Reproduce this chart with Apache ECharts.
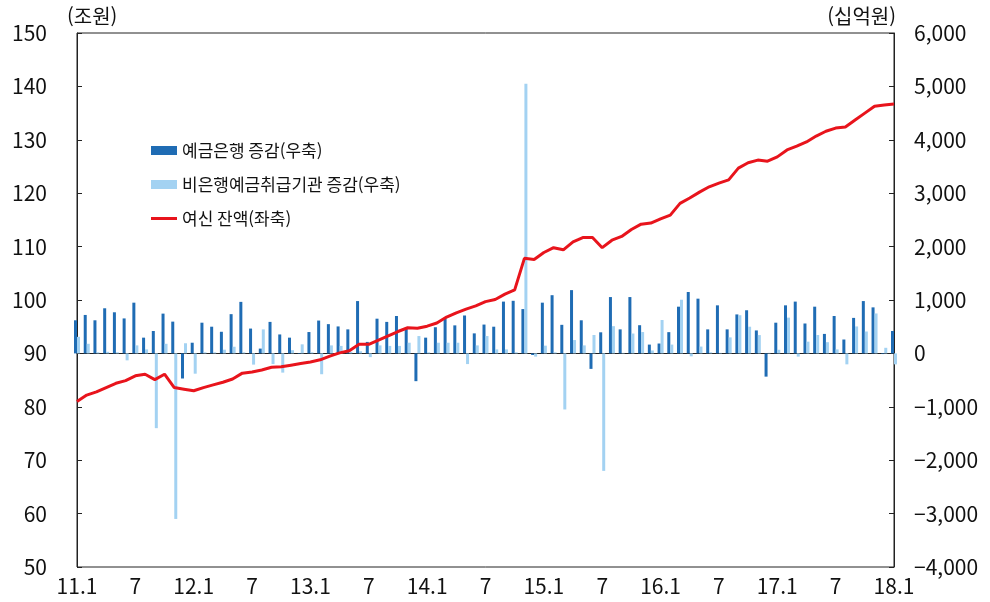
<!DOCTYPE html>
<html lang="ko">

<head>
    <meta charset="UTF-8">
    <title>여신 잔액 및 증감</title>
    <style>
        * {
            margin: 0;
            padding: 0;
        }

        #chart {
            width: 990px;
            height: 602px;
            background: #fff;
        }
    </style>
</head>

<body>
    <div id="chart"></div>
    <script src="https://cdn.jsdelivr.net/npm/echarts@6.0.0/dist/echarts.min.js"></script>
    <script type="text/javascript">
        // 월별 카테고리 (11.1 ~ 18.1)
        var months = [];
        for (var y = 11; y <= 18; y++) {
            for (var m = 1; m <= 12; m++) {
                if (y == 18 && m > 1) break;
                months.push(y + '.' + m);
            }
        }

        // 예금은행 증감(우축, 십억원)
        var bankChange = [
            620, 720, 620, 845, 770, 655, 950, 295, 420, 745, 595, -470,
            200, 575, 500, 405, 735, 965, 465, 90, 590, 355, 295, -10,
            400, 615, 548, 505, 450, 980, 215, 650, 590, 700, 480, -520,
            295, 490, 660, 525, 710, 375, 540, 500, 970, 985, 830, -30,
            950, 1090, 535, 1185, 620, -290, 395, 1055, 450, 1055, 528, 165,
            185, 398, 875, 1150, 1025, 450, 900, 450, 730, 808, 430, -435,
            575, 900, 970, 560, 875, 365, 700, 260, 665, 980, 862, -12,
            420
        ];

        // 비은행예금취급기관 증감(우축, 십억원)
        var nonBankChange = [
            310, 180, 20, 30, 20, -130, 150, 75, -1400, 180, -3100, 190,
            -380, 20, 20, 70, 125, 20, -210, 450, -200, -360, 60, 170,
            20, -390, 150, 140, 30, 40, -70, 150, 140, 140, 200, 325,
            20, 200, 200, 200, -200, 150, 325, 75, 75, 20, 5050, -60,
            145, 20, -1050, 250, 150, 345, -2200, 510, 10, 372, 400, 55,
            625, 165, 1005, -55, 128, 20, 10, 300, 715, 500, 343, 10,
            68, 670, -60, 220, 345, 210, 75, -205, 505, 410, 748, 105,
            -205
        ];

        // 여신 잔액(좌축, 조원)
        var loanBalance = [
            81.0, 82.2, 82.8, 83.6, 84.4, 84.9, 85.8, 86.1, 85.1, 86.1, 83.6, 83.3,
            83.0, 83.6, 84.1, 84.6, 85.2, 86.3, 86.5, 86.9, 87.4, 87.5, 87.8, 88.1,
            88.4, 88.8, 89.5, 90.1, 90.5, 91.7, 91.7, 92.5, 93.3, 94.1, 94.8, 94.7,
            95.1, 95.7, 96.8, 97.6, 98.3, 98.9, 99.7, 100.1, 101.1, 101.9, 107.8, 107.6,
            108.9, 109.8, 109.4, 110.9, 111.7, 111.7, 109.8, 111.2, 111.9, 113.2, 114.2, 114.4,
            115.2, 115.9, 118.1, 119.1, 120.2, 121.2, 121.9, 122.5, 124.7, 125.7, 126.2, 126.0,
            126.8, 128.1, 128.8, 129.6, 130.7, 131.6, 132.2, 132.4, 133.7, 135.0, 136.3, 136.5,
            136.7
        ];

        var numFont = "'Noto Sans CJK KR', sans-serif";
        var korFont = "'Noto Sans CJK KR', sans-serif";

        var chart = echarts.init(document.getElementById('chart'));
        var option = {
            animation: false,
            backgroundColor: '#fff',
            grid: {
                left: 77,
                right: 96,
                top: 33,
                bottom: 35,
                show: true,
                borderColor: '#222',
                borderWidth: 1
            },
            legend: {
                orient: 'vertical',
                left: 146,
                top: 137,
                itemGap: 17,
                itemWidth: 26,
                itemHeight: 9,
                textStyle: { fontFamily: korFont, fontSize: 17, color: '#111' },
                data: [
                    { name: '예금은행 증감(우축)', icon: 'rect' },
                    { name: '비은행예금취급기관 증감(우축)', icon: 'rect' },
                    // 선 아이콘 (원 표시 없이)
                    { name: '여신 잔액(좌축)', icon: 'path://M0,0 L26,0 L26,3 L0,3 Z' }
                ]
            },
            xAxis: {
                type: 'category',
                boundaryGap: false,
                data: months,
                axisLine: { lineStyle: { color: '#222' } },
                axisTick: { show: false },
                axisLabel: {
                    interval: 5,
                    margin: 9,
                    color: '#111',
                    fontFamily: numFont,
                    fontSize: 21,
                    formatter: function (v) {
                        var p = v.split('.');
                        return p[1] == '1' ? v : p[1];
                    }
                },
                splitLine: { show: false }
            },
            yAxis: [
                {
                    type: 'value',
                    position: 'left',
                    min: 50,
                    max: 150,
                    interval: 10,
                    name: '(조원)',
                    nameLocation: 'end',
                    nameGap: 7,
                    nameTextStyle: {
                        fontFamily: korFont, fontSize: 20, color: '#111',
                        align: 'left', padding: [0, 0, 0, -10]
                    },
                    axisLine: { show: true, lineStyle: { color: '#222' } },
                    axisTick: { show: true, inside: true, length: 5, lineStyle: { color: '#222' } },
                    axisLabel: { margin: 30, color: '#111', fontFamily: numFont, fontSize: 21 },
                    splitLine: { show: false }
                },
                {
                    type: 'value',
                    position: 'right',
                    min: -4000,
                    max: 6000,
                    interval: 1000,
                    name: '(십억원)',
                    nameLocation: 'end',
                    nameGap: 7,
                    nameTextStyle: {
                        fontFamily: korFont, fontSize: 20, color: '#111',
                        align: 'right', padding: [0, -2, 0, 0]
                    },
                    axisLine: { show: true, lineStyle: { color: '#222' } },
                    axisTick: { show: true, inside: true, length: 5, lineStyle: { color: '#222' } },
                    axisLabel: {
                        margin: 20,
                        color: '#111',
                        fontFamily: numFont,
                        fontSize: 21,
                        formatter: function (v) {
                            var s = Math.abs(v).toLocaleString('en-US');
                            return v < 0 ? '\u2212' + s : s;
                        }
                    },
                    splitLine: { show: false }
                }
            ],
            series: [
                {
                    name: '예금은행 증감(우축)',
                    type: 'bar',
                    yAxisIndex: 1,
                    data: bankChange,
                    barWidth: 3,
                    barGap: '0%',
                    itemStyle: { color: '#1f6cb4' }
                },
                {
                    name: '비은행예금취급기관 증감(우축)',
                    type: 'bar',
                    yAxisIndex: 1,
                    data: nonBankChange,
                    barWidth: 3,
                    barGap: '0%',
                    itemStyle: { color: '#a3d2f2' }
                },
                {
                    name: '여신 잔액(좌축)',
                    type: 'line',
                    yAxisIndex: 0,
                    data: loanBalance,
                    symbol: 'none',
                    z: 5,
                    lineStyle: { color: '#e8141c', width: 3 },
                    itemStyle: { color: '#e8141c' }
                }
            ]
        };
        chart.setOption(option);
    </script>
</body>

</html>
